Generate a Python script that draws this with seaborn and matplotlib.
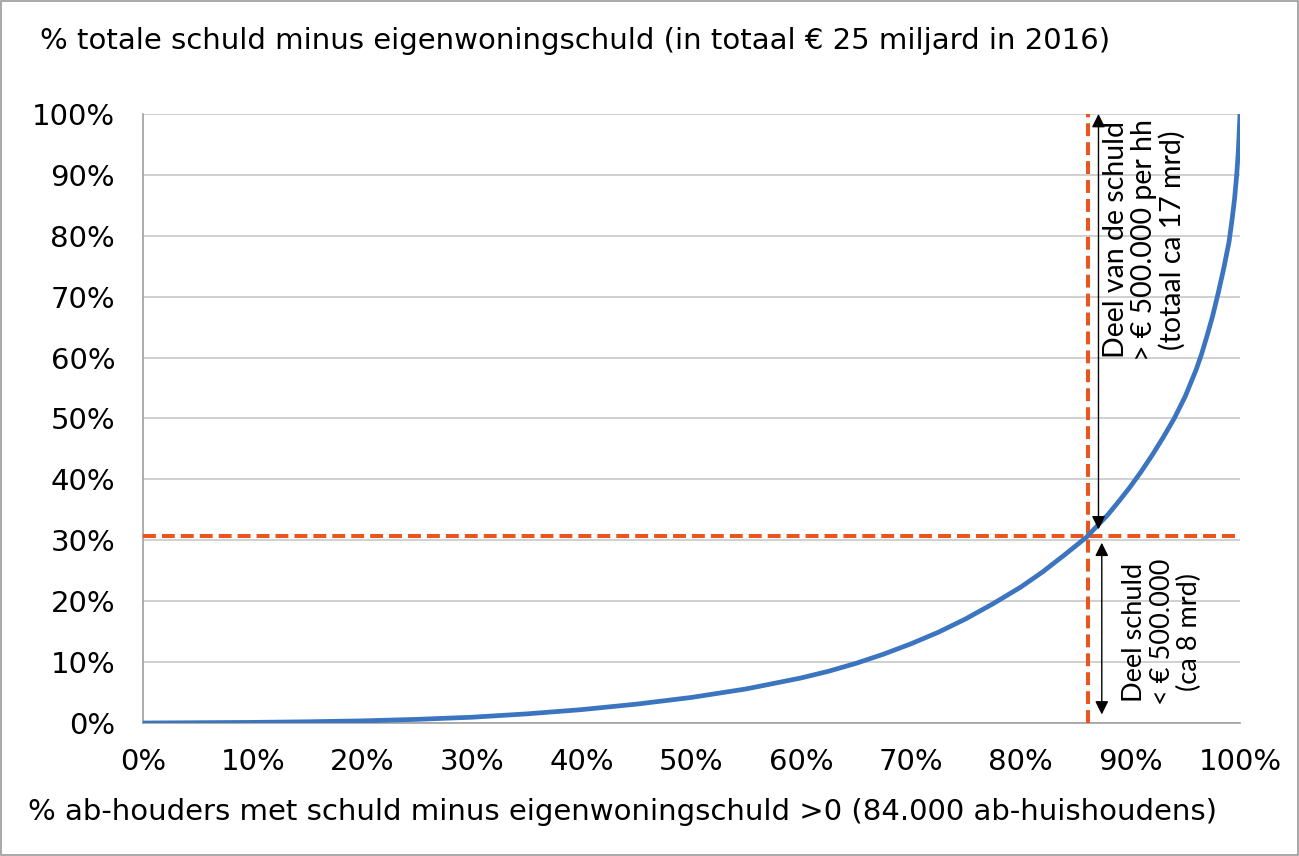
import matplotlib
matplotlib.use("Agg")
import matplotlib.pyplot as plt
import seaborn as sns
import pandas as pd
from matplotlib.ticker import FuncFormatter, MultipleLocator
from matplotlib.patches import Rectangle

# data
households_pct = [0, 5, 10, 15, 20, 25, 30, 35, 40, 45, 50, 55, 60, 62.5, 65, 67.5, 70, 72.5, 75, 77.5,
                  80, 82, 84, 86, 88, 89, 90, 91, 92, 93, 94, 95, 96, 96.5, 97, 97.5, 98, 98.5,
                  99, 99.3, 99.5, 99.7, 99.85, 100]
debt_pct = [0, 0.05, 0.1, 0.2, 0.35, 0.6, 0.95, 1.5, 2.2, 3.1, 4.2, 5.6, 7.4, 8.5, 9.8, 11.3, 13.0, 14.9, 17.1, 19.6,
            22.3, 24.8, 27.6, 30.5, 34.3, 36.5, 38.8, 41.3, 44.0, 46.9, 50.0, 53.6, 58.0, 60.6, 63.6, 66.8, 70.5, 74.5,
            79, 83, 86, 90, 94, 100]
threshold_x = 86.1
threshold_y = 30.7

title_text = "% totale schuld minus eigenwoningschuld (in totaal € 25 miljard in 2016)"
xlabel_text = "% ab-houders met schuld minus eigenwoningschuld >0 (84.000 ab-huishoudens)"
upper_note = "Deel van de schuld\n> € 500.000 per hh\n(totaal ca 17 mrd)"
lower_note = "Deel schuld\n< € 500.000\n(ca 8 mrd)"

sns.set_theme(style="white")
plt.rcParams['font.family'] = ['DejaVu Sans']

fig = plt.figure(figsize=(12.99, 8.56), dpi=100)
ax = fig.add_axes([143/1299, 1-723/856, (1240-143)/1299, (723-114)/856])

df = pd.DataFrame({"x": households_pct, "y": debt_pct})
sns.lineplot(data=df, x="x", y="y", ax=ax, color="#3B74BF", linewidth=3.4, zorder=4)

orange = "#E8561E"
ax.axvline(threshold_x, color=orange, linestyle=(0, (3.2, 1.5)), linewidth=2.9, zorder=3)
ax.axhline(threshold_y, color=orange, linestyle=(0, (3.2, 1.5)), linewidth=2.9, zorder=3)

ax.set_xlim(0, 100)
ax.set_ylim(0, 100)
ax.xaxis.set_major_locator(MultipleLocator(10))
ax.yaxis.set_major_locator(MultipleLocator(10))
fmt = FuncFormatter(lambda v, p: f"{v:.0f}%")
ax.xaxis.set_major_formatter(fmt)
ax.yaxis.set_major_formatter(fmt)
ax.tick_params(axis='both', labelsize=21, colors="#000000", length=0)
ax.tick_params(axis='y', pad=20)
ax.tick_params(axis='x', pad=18)
ax.yaxis.grid(True, color="#C8C8C8", linewidth=1.2)
ax.xaxis.grid(False)
for s in ["top", "right"]:
    ax.spines[s].set_visible(False)
for s in ["left", "bottom"]:
    ax.spines[s].set_color("#A0A0A0")
    ax.spines[s].set_linewidth(1.2)
ax.set_xlabel("")
ax.set_ylabel("")

# arrows
ax.annotate("", xy=(87.1, 100), xytext=(87.1, 31.8),
            arrowprops=dict(arrowstyle="<|-|>", color="black", lw=1, mutation_scale=20,
                            shrinkA=0, shrinkB=0), zorder=5)
ax.annotate("", xy=(87.4, 29.6), xytext=(87.4, 1.4),
            arrowprops=dict(arrowstyle="<|-|>", color="black", lw=1, mutation_scale=20,
                            shrinkA=0, shrinkB=0), zorder=5)

note_font = ['Lato', 'DejaVu Sans']
ax.text(91.3, 99.2, upper_note, rotation=90, ha="center", va="top", fontsize=20.5,
        linespacing=1.08, color="black", family=note_font, zorder=6)
ax.text(92.9, 2.9, lower_note, rotation=90, ha="center", va="bottom", fontsize=19.5,
        linespacing=1.12, color="black", family=note_font, zorder=6)

fig.text(40/1299, 1-41/856, title_text, fontsize=21, ha="left", va="center", color="black")
fig.text(28/1299, 1-812/856, xlabel_text, fontsize=21, ha="left", va="center", color="black")

fig.add_artist(Rectangle((0.001, 0.001), 0.998, 0.998, transform=fig.transFigure,
                         fill=False, edgecolor="#9A9A9A", linewidth=1.2))

fig.savefig("out.png", dpi=100)
